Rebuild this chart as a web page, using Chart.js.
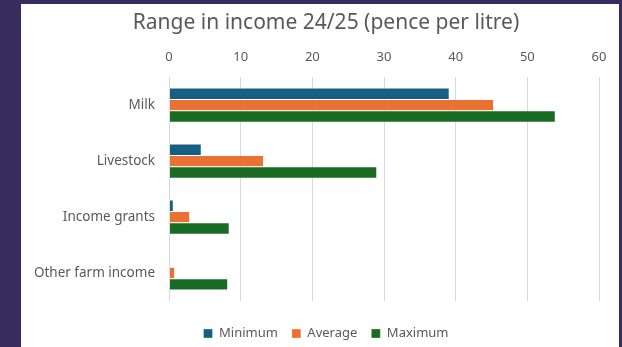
<!DOCTYPE html>
<html>
<head>
<meta charset="utf-8">
<script src="https://cdn.jsdelivr.net/npm/chart.js@4.4.1/dist/chart.umd.min.js"></script>
<style>
  html, body { margin: 0; padding: 0; }
  body { width: 622px; height: 347px; background: #392d5f; position: relative; overflow: hidden; }
  #panel { position: absolute; left: 21px; top: 4px; width: 598px; height: 343px; background: #ffffff; }
  #wrap { position: absolute; left: 0; top: 0; width: 610px; height: 343px; }
</style>
</head>
<body>
<div id="panel"><div id="wrap"><canvas id="chart"></canvas></div></div>
<script>
// Income sources, pence per litre, 2024/25
const categories = ['Milk', 'Livestock', 'Income grants', 'Other farm income'];
const minimum = [39.1, 4.5, 0.6, 0];
const average = [45.3, 13.2, 2.9, 0.8];
const maximum = [53.9, 29.0, 8.4, 8.2];
const xTicks = [0, 10, 20, 30, 40, 50, 60];

const FONT = '"Noto Sans", "Open Sans", sans-serif';
const TEXT = '#595959';

const barStyle = {
  xAxisID: 'x',
  yAxisID: 'y',
  borderColor: 'rgba(255,255,255,0.6)',
  borderWidth: 0.5,
  borderSkipped: false
};

// invisible spacer axis: reserves room without drawing anything
const spacer = (position, size) => ({
  type: 'linear',
  position,
  min: 0,
  max: 1,
  afterFit: (scale) => {
    if (position === 'left' || position === 'right') scale.width = size;
    else scale.height = size;
  },
  grid: { display: false, drawTicks: false },
  border: { display: false },
  ticks: { display: false }
});

new Chart(document.getElementById('chart'), {
  type: 'bar',
  data: {
    labels: categories,
    datasets: [
      { label: 'Minimum', data: minimum, backgroundColor: '#156082', ...barStyle },
      { label: 'Average', data: average, backgroundColor: '#e97132', ...barStyle },
      { label: 'Maximum', data: maximum, backgroundColor: '#196b24', ...barStyle }
    ]
  },
  options: {
    indexAxis: 'y',
    responsive: true,
    maintainAspectRatio: false,
    animation: false,
    layout: { padding: { left: 0, right: 0, top: 0, bottom: -3 } },
    datasets: { bar: { barPercentage: 1, categoryPercentage: 0.61 } },
    plugins: {
      title: {
        display: true,
        text: 'Range in income 24/25 (pence per litre)',
        color: TEXT,
        font: { family: FONT, size: 21, weight: 'normal', lineHeight: 1.2 },
        padding: { top: 6, bottom: 0 }
      },
      legend: {
        position: 'bottom',
        labels: {
          color: TEXT,
          font: { family: FONT, size: 13 },
          boxWidth: 9,
          boxHeight: 9,
          padding: 14
        }
      },
      tooltip: { enabled: false }
    },
    scales: {
      x: {
        position: 'top',
        min: 0,
        max: 60,
        afterBuildTicks: (scale) => { scale.ticks = xTicks.map(v => ({ value: v })); },
        afterFit: (scale) => { scale.height = 42; },
        grid: { color: '#d9d9d9', lineWidth: 1, drawTicks: false },
        border: { display: false },
        ticks: { color: TEXT, font: { family: FONT, size: 13 }, padding: 12 }
      },
      y: {
        type: 'category',
        position: 'left',
        afterFit: (scale) => { scale.width = 148; },
        grid: { display: false, drawTicks: false },
        border: { display: false },
        ticks: { color: TEXT, font: { family: FONT, size: 13.5 }, padding: 14 }
      },
      gapBottom: spacer('bottom', 12),
      gapRight: spacer('right', 32)
    }
  }
});
</script>
</body>
</html>
